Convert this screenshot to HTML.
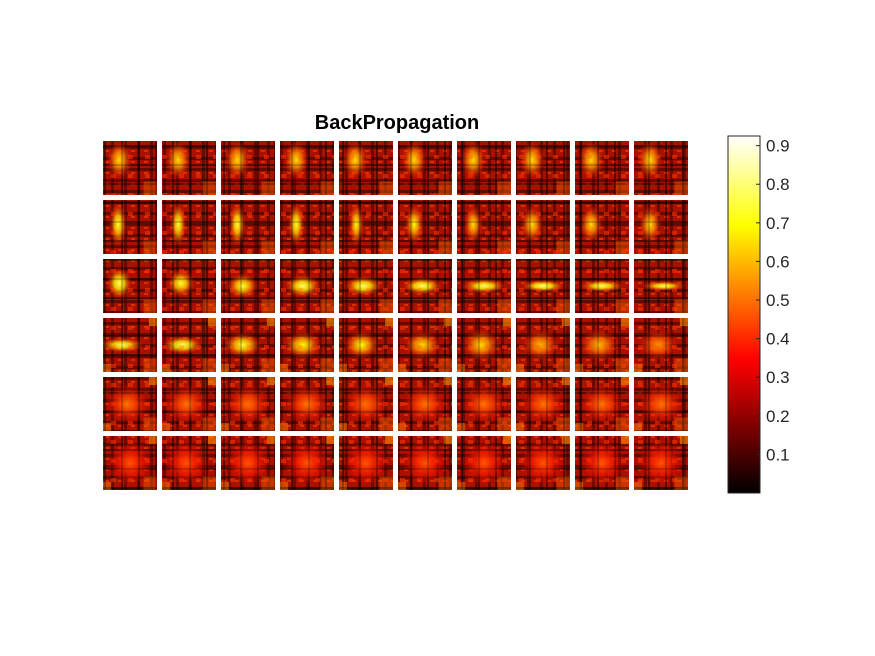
<!DOCTYPE html>
<html><head><meta charset="utf-8"><style>
body{margin:0;background:#fff;}
svg{display:block;font-family:"Liberation Sans",sans-serif;}
</style></head><body>
<svg id="chart" width="875" height="656">
<defs>
<pattern id="tex" width="13" height="11" patternUnits="userSpaceOnUse">
<rect x="0" y="3" width="13" height="3" fill="#000" opacity="0.4"/>
<rect x="7" y="0" width="3" height="11" fill="#000" opacity="0.35"/>
<rect x="1" y="7" width="4" height="2" fill="#ff5000" opacity="0.5"/>
</pattern>
<pattern id="tex2" width="17" height="19" patternUnits="userSpaceOnUse">
<rect x="2" y="0" width="2" height="19" fill="#000" opacity="0.35"/>
<rect x="0" y="12" width="17" height="2" fill="#000" opacity="0.35"/>
<rect x="9" y="3" width="5" height="4" fill="#ff3000" opacity="0.45"/>
</pattern>
<linearGradient id="hotbar" x1="0" y1="1" x2="0" y2="0">
<stop offset="0" stop-color="#000"/><stop offset="0.375" stop-color="#f00"/>
<stop offset="0.75" stop-color="#ff0"/><stop offset="1" stop-color="#fff"/>
</linearGradient>
</defs>
<text x="397" y="129" text-anchor="middle" font-size="20" font-weight="bold" fill="#000">BackPropagation</text>
<g id="tiles"></g>
<rect x="728" y="136" width="32" height="357" fill="url(#hotbar)" stroke="#262626" stroke-width="1"/>
<g id="cbticks"></g>
</svg>
<script>
const blobX=[[.3,.3,.3,.3,.3,.3,.3,.3,.3,.3],[.28,.3,.3,.3,.32,.3,.3,.3,.3,.3],[.3,.35,.4,.42,.45,.45,.5,.5,.5,.55],[.35,.38,.4,.42,.42,.45,.45,.45,.45,.45],[.45,.45,.5,.5,.5,.5,.5,.5,.5,.5],[.5,.45,.5,.5,.5,.5,.5,.5,.5,.5]];
const blobY=[[.35,.35,.35,.35,.35,.35,.35,.35,.35,.35],[.45,.45,.45,.45,.45,.45,.45,.45,.45,.45],[.45,.45,.5,.5,.5,.5,.5,.5,.5,.5],[.5,.5,.5,.5,.5,.5,.5,.5,.5,.5],[.5,.5,.5,.5,.5,.5,.5,.5,.5,.5],[.5,.5,.5,.5,.5,.5,.5,.5,.5,.5]];
const blobW=[[.2,.2,.2,.2,.2,.2,.2,.2,.2,.2],[.14,.13,.13,.13,.12,.15,.15,.18,.18,.18],[.2,.22,.25,.28,.3,.32,.35,.35,.35,.35],[.35,.32,.3,.3,.28,.3,.3,.3,.32,.32],[.35,.35,.35,.35,.35,.35,.35,.35,.35,.35],[.35,.35,.35,.35,.35,.35,.35,.35,.35,.35]];
const blobH=[[.3,.3,.3,.3,.3,.3,.3,.3,.3,.3],[.35,.35,.35,.35,.35,.32,.3,.3,.3,.3],[.25,.22,.2,.18,.16,.14,.12,.1,.1,.08],[.12,.15,.2,.22,.22,.22,.25,.25,.25,.25],[.3,.3,.3,.3,.3,.3,.3,.3,.3,.3],[.35,.35,.35,.35,.35,.35,.35,.35,.35,.35]];
const peak=[[.7,.7,.7,.7,.7,.7,.7,.7,.7,.7],[.8,.8,.8,.8,.75,.75,.7,.7,.7,.7],[.85,.8,.8,.85,.85,.85,.85,.88,.85,.85],[.85,.85,.8,.75,.75,.7,.7,.65,.65,.6],[.55,.55,.55,.55,.55,.55,.55,.55,.55,.55],[.5,.5,.5,.5,.5,.5,.5,.5,.5,.5]];
const cbTicks=[0.1,0.2,0.3,0.4,0.5,0.6,0.7,0.8,0.9];
const cbMin=0,cbMax=0.925;
const NS="http://www.w3.org/2000/svg";
function hot(v){const c=x=>Math.round(255*Math.max(0,Math.min(1,x)));return `rgb(${c(v/.375)},${c((v-.375)/.375)},${c((v-.75)/.25)})`;}
const x0=103,y0=141,step=59,ts=54,sc=1.2;
const svg=document.getElementById('chart'),defs=svg.querySelector('defs'),tg=document.getElementById('tiles');
for(let r=0;r<peak.length;r++)for(let c=0;c<peak[r].length;c++){
 const id='g'+r+'_'+c,x=x0+c*step,y=y0+r*step;
 const gr=document.createElementNS(NS,'radialGradient');gr.setAttribute('id',id);
 gr.innerHTML=`<stop offset="0" stop-color="${hot(peak[r][c])}"/><stop offset="0.4" stop-color="${hot(peak[r][c]*0.85)}" stop-opacity="0.8"/><stop offset="1" stop-color="${hot(0.35)}" stop-opacity="0"/>`;
 defs.appendChild(gr);
 const cp=document.createElementNS(NS,'clipPath');cp.setAttribute('id','c'+id);
 cp.innerHTML=`<rect x="${x}" y="${y}" width="${ts}" height="${ts}"/>`;
 defs.appendChild(cp);
 const g=document.createElementNS(NS,'g');
 
 
 g.setAttribute('clip-path','url(#c'+id+')');
 const corner=r>=3?`<rect x="${x+ts*.85}" y="${y}" width="${ts*.15}" height="${ts*.15}" fill="#ff9000" opacity="0.6"/><rect x="${x}" y="${y+ts*.85}" width="${ts*.15}" height="${ts*.15}" fill="#ff8000" opacity="0.5"/>`:'';
 g.innerHTML=`<rect x="${x}" y="${y}" width="${ts}" height="${ts}" fill="#a81000"/>
<rect x="${x}" y="${y}" width="${ts}" height="${ts}" fill="url(#tex)"/>
<rect x="${x}" y="${y}" width="${ts}" height="${ts}" fill="url(#tex2)"/>
<rect x="${x+ts*.75}" y="${y+ts*.75}" width="${ts*.25}" height="${ts*.25}" fill="#f06000" opacity="0.45"/>${corner}
<ellipse cx="${x+blobX[r][c]*ts}" cy="${y+blobY[r][c]*ts}" rx="${blobW[r][c]*ts*sc}" ry="${blobH[r][c]*ts*sc}" fill="url(#${id})"/>
<rect x="${x}" y="${y}" width="${ts}" height="${ts}" fill="url(#tex2)" opacity="0.5"/>`;
 tg.appendChild(g);
}
const ct=document.getElementById('cbticks');
const cy=v=>493-(v-cbMin)/(cbMax-cbMin)*357;
cbTicks.forEach(v=>{
 const t=document.createElementNS(NS,'text');
 t.setAttribute('x',766);t.setAttribute('y',cy(v)+6);t.setAttribute('font-size','17');t.setAttribute('fill','#262626');
 t.textContent=v.toFixed(1);
 
 
 ct.appendChild(t);
 const l=document.createElementNS(NS,'line');
 l.setAttribute('x1',756);l.setAttribute('x2',760);l.setAttribute('y1',cy(v));l.setAttribute('y2',cy(v));l.setAttribute('stroke','#262626');
 
 
 ct.appendChild(l);
});
</script>
</body></html>
